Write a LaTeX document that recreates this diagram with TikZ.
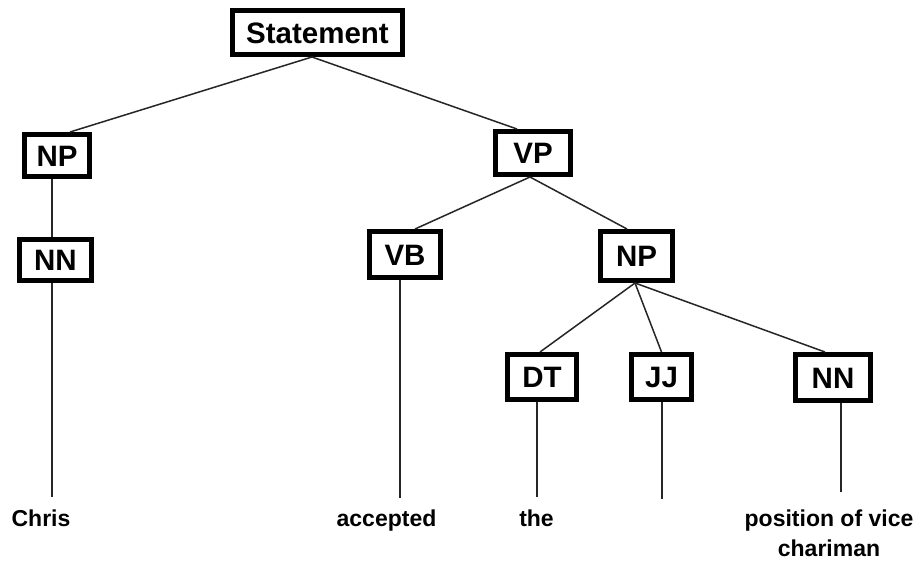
\documentclass[tikz,border=0pt]{standalone}
\usepackage{fontspec}
\setmainfont{Liberation Sans}
\begin{document}
\begin{tikzpicture}[x=1pt,y=-1pt,
  box/.style={draw=black, line width=5pt, fill=white, font=\bfseries\fontsize{29.5}{33}\selectfont,
    inner sep=0pt, text height=21pt, text depth=0pt, align=center},
  leaf/.style={font=\bfseries\fontsize{23}{30}\selectfont, inner sep=0pt, anchor=north, align=center},
  edge/.style={draw=black!85, line width=1.5pt}]
\useasboundingbox[fill=white] (0,0) rectangle (915,562);
% boxes
\node[box, minimum width=170pt, minimum height=44pt] (st)  at (317.5,32.5) {Statement};
\node[box, minimum width=65pt,  minimum height=42pt] (np1) at (57,155.5)   {NP};
\node[box, minimum width=72pt,  minimum height=41pt] (nn1) at (55.5,260)   {NN};
\node[box, minimum width=75pt,  minimum height=43pt] (vp)  at (533,153)    {VP};
\node[box, minimum width=71pt,  minimum height=46pt] (vb)  at (405,254.5)  {VB};
\node[box, minimum width=72pt,  minimum height=49pt] (np2) at (636.5,256)  {NP};
\node[box, minimum width=69pt,  minimum height=45pt] (dt)  at (542,377)    {DT};
\node[box, minimum width=60pt,  minimum height=45pt] (jj)  at (661.5,377)  {JJ};
\node[box, minimum width=75pt,  minimum height=46pt] (nn2) at (833,377.5)  {NN};
% leaves
\node[leaf] (chris) at (41,510)    {Chris};
\node[leaf] (acc)   at (386.5,510) {accepted};
\node[leaf] (the)   at (536.5,510) {the};
\node[leaf] (pos)   at (829,510)   {position of vice\\chariman};
\coordinate (chrisT) at (52,497);
\coordinate (accT)   at (400,498);
\coordinate (theT)   at (537,497);
\coordinate (jjT)    at (662,499);
\coordinate (posT)   at (841,492);
% connectors
\draw[edge] ([xshift=-5.5pt]st.south) -- ([xshift=13pt]np1.north);
\draw[edge] ([xshift=-5.5pt]st.south) -- ([xshift=-16pt]vp.north);
\draw[edge] ([xshift=-5pt]np1.south) -- ([xshift=-3.5pt]nn1.north);
\draw[edge] ([xshift=-3pt]vp.south) -- ([xshift=10pt]vb.north);
\draw[edge] ([xshift=-3pt]vp.south) -- ([xshift=-9.5pt]np2.north);
\draw[edge] ([xshift=-1.5pt]np2.south) -- ([xshift=-2pt]dt.north);
\draw[edge] ([xshift=-1.5pt]np2.south) -- (jj.north);
\draw[edge] ([xshift=-1.5pt]np2.south) -- ([xshift=-8pt]nn2.north);
\draw[edge] (nn1.south -| chrisT) -- (chrisT);
\draw[edge] (vb.south -| accT) -- (accT);
\draw[edge] (dt.south -| theT) -- (theT);
\draw[edge] (jj.south -| jjT) -- (jjT);
\draw[edge] (nn2.south -| posT) -- (posT);
\end{tikzpicture}
\end{document}
